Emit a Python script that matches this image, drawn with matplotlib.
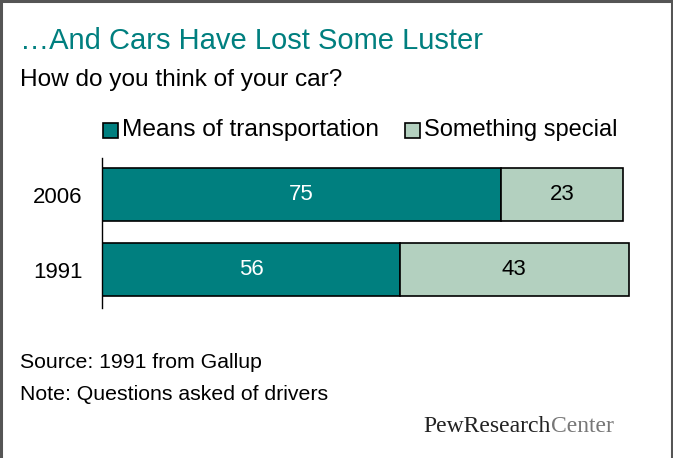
import matplotlib.pyplot as plt
from matplotlib.lines import Line2D
from matplotlib.patches import Rectangle

plt.rcParams['font.family'] = ['Liberation Sans', 'DejaVu Sans']

# data
years = ['1991', '2006']
transport = [56, 75]
special = [43, 23]
series_names = ['Means of transportation', 'Something special']

teal = '#007f7f'
light = '#b3d0bf'

fig = plt.figure(figsize=(6.73, 4.58), dpi=100)
renderer = fig.canvas.get_renderer()


def px(x, y):
    return x / 673, 1 - y / 458


def fit(t, width):
    # scale font so the text spans about `width` pixels
    w = t.get_window_extent(renderer).width
    t.set_fontsize(t.get_fontsize() * width / w)
    return t


# frame around the picture (left, top, right)
fig.add_artist(Line2D([0.0015, 0.0015], [0, 0.998], color='#555555', lw=2.2, transform=fig.transFigure))
fig.add_artist(Line2D([0, 1], [0.997, 0.997], color='#555555', lw=2.2, transform=fig.transFigure))
fig.add_artist(Line2D([0.9985, 0.9985], [0, 0.998], color='#555555', lw=2.2, transform=fig.transFigure))

ax = fig.add_axes([0.1516, 0.3275, 0.7905, 0.3275])
pos = [0, 1]
h = 0.707
ax.barh(pos, transport, height=h, color=teal, edgecolor='black', linewidth=1.2)
ax.barh(pos, special, left=transport, height=h, color=light, edgecolor='black', linewidth=1.2)

for p, t, s in zip(pos, transport, special):
    ax.text(t / 2, p, str(t), ha='center', va='center', color='white', fontsize=16)
    ax.text(t + s / 2, p, str(s), ha='center', va='center', color='black', fontsize=16)

ax.set_xlim(0, 100)
ax.set_ylim(-0.513, 1.487)
ax.set_yticks(pos)
ax.set_yticklabels(years, fontsize=16)
ax.tick_params(axis='y', length=0, pad=14)
ax.set_xticks([])
for sp in ['top', 'right', 'bottom']:
    ax.spines[sp].set_visible(False)
ax.spines['left'].set_linewidth(1.0)

# legend
fig.add_artist(Rectangle(px(103, 138), 15 / 673, 15 / 458, facecolor=teal,
                         edgecolor='black', lw=1.2, transform=fig.transFigure))
fit(fig.text(*px(122, 130), series_names[0], fontsize=15, va='center', ha='left'), 258)
fig.add_artist(Rectangle(px(405, 138), 15 / 673, 15 / 458, facecolor=light,
                         edgecolor='black', lw=1.2, transform=fig.transFigure))
fit(fig.text(*px(424, 130), series_names[1], fontsize=15, va='center', ha='left'), 194)

fit(fig.text(*px(20, 41), '…And Cars Have Lost Some Luster', fontsize=21, color=teal,
             va='center', ha='left'), 463)
fit(fig.text(*px(20, 80), 'How do you think of your car?', fontsize=16, va='center', ha='left'), 323)
fit(fig.text(*px(20, 363), 'Source: 1991 from Gallup', fontsize=14, va='center', ha='left'), 243)
fit(fig.text(*px(20, 394), 'Note: Questions asked of drivers', fontsize=14, va='center', ha='left'), 310)

pew = fig.text(*px(423, 427), 'PewResearch', fontsize=17, family=['Liberation Serif'],
               va='center', ha='left', color='#222222')
pw = pew.get_window_extent(renderer).width
fig.text(*px(423 + pw + 1, 427), 'Center', fontsize=17, family=['Liberation Serif'],
         va='center', ha='left', color='#777777')

fig.savefig('out.png', dpi=100)
